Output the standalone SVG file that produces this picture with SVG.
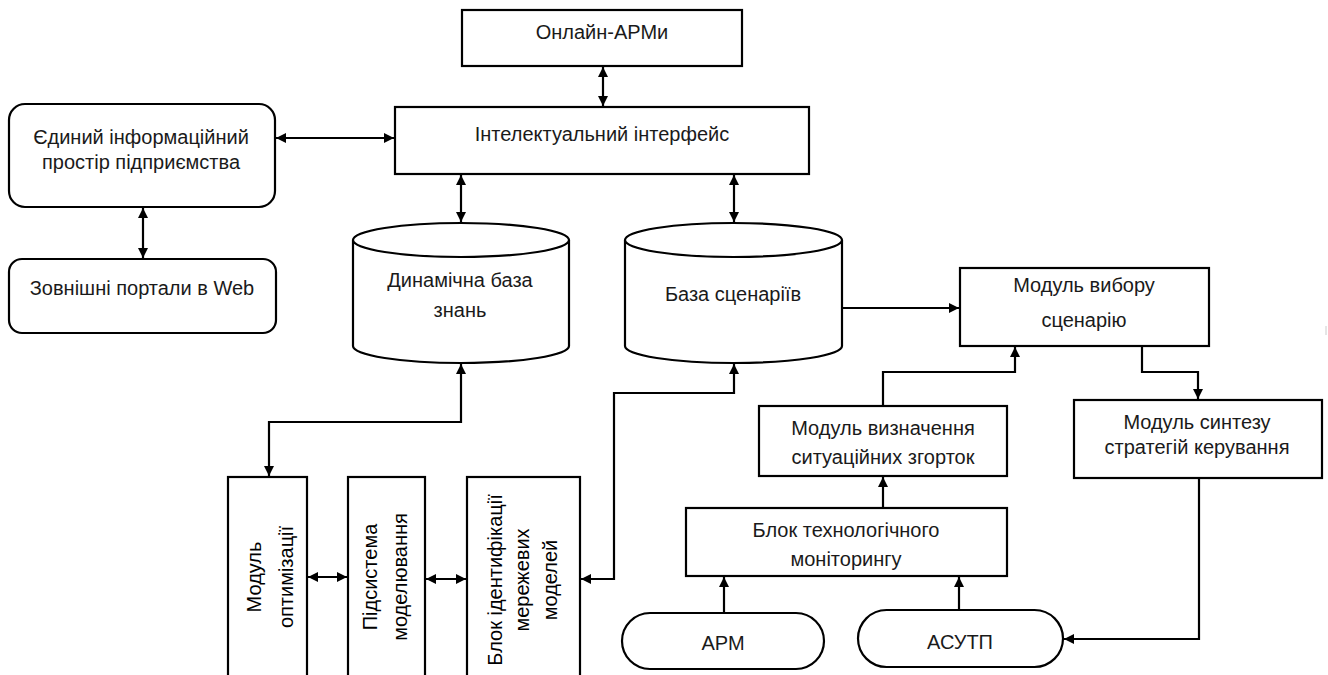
<svg xmlns="http://www.w3.org/2000/svg" width="1328" height="675" viewBox="0 0 1328 675">
<style>
.box{fill:#fff;stroke:#000;stroke-width:2.2}
.t{font-family:"Liberation Sans",Arial,sans-serif;font-size:20px;fill:#1a1a1a;text-anchor:middle}
.v{font-family:"Liberation Sans",Arial,sans-serif;font-size:20px;fill:#000;text-anchor:middle}
.c{fill:none;stroke:#000;stroke-width:2.2}
.a{marker-end:url(#ah)}
.aa{marker-start:url(#ah);marker-end:url(#ah)}
</style>
<defs>
<marker id="ah" viewBox="0 0 10 10" refX="10" refY="5" markerUnits="userSpaceOnUse" markerWidth="10" markerHeight="10" orient="auto-start-reverse">
<path d="M0,0 L10,5 L0,10 Z" fill="#000"/>
</marker>
</defs>
<rect width="1328" height="675" fill="#fff"/>

<g id="connectors">
<line class="c aa" x1="603" y1="67" x2="603" y2="106"/>
<line class="c aa" x1="276" y1="138" x2="394" y2="138"/>
<line class="c aa" x1="143" y1="208" x2="143" y2="258"/>
<line class="c aa" x1="461" y1="175" x2="461" y2="222"/>
<line class="c aa" x1="734" y1="175" x2="734" y2="222"/>
<polyline class="c aa" points="461,364 461,422 269,422 269,476"/>
<polyline class="c aa" points="734,364 734,393 614,393 614,579 581,579"/>
<line class="c aa" x1="308" y1="577" x2="347" y2="577"/>
<line class="c aa" x1="426" y1="579" x2="466" y2="579"/>
<line class="c a" x1="842" y1="308" x2="959" y2="308"/>
<polyline class="c a" points="883,406 883,372 1015,372 1015,347"/>
<polyline class="c a" points="1142,346 1142,372 1198,372 1198,399"/>
<line class="c a" x1="883" y1="508" x2="883" y2="477"/>
<line class="c a" x1="724" y1="613" x2="724" y2="577"/>
<line class="c a" x1="959" y1="610" x2="959" y2="577"/>
<polyline class="c a" points="1199,478 1199,639 1064,639"/>
</g>

<g id="online">
<rect class="box" x="462" y="10" width="280" height="56"/>
<text class="t" x="602" y="39">Онлайн-АРМи</text>
</g>

<g id="interface">
<rect class="box" x="395" y="107" width="414" height="67"/>
<text class="t" x="602" y="141">Інтелектуальний інтерфейс</text>
</g>

<g id="unified">
<rect class="box" x="9" y="104" width="266" height="103" rx="16"/>
<text class="t" x="141" y="144">Єдиний інформаційний</text>
<text class="t" x="141" y="169">простір підприємства</text>
</g>

<g id="portals">
<rect class="box" x="9" y="259" width="267" height="74" rx="13"/>
<text class="t" x="142" y="295">Зовнішні портали в Web</text>
</g>

<g id="knowledge">
<path class="box" d="M353,240 L353,346 A108,17 0 0 0 569,346 L569,240"/>
<ellipse class="box" cx="461" cy="240" rx="108" ry="17"/>
<text class="t" x="460" y="287">Динамічна база</text>
<text class="t" x="460" y="317">знань</text>
</g>

<g id="scenarios">
<path class="box" d="M625,240 L625,346 A108.5,17 0 0 0 842,346 L842,240"/>
<ellipse class="box" cx="733.5" cy="240" rx="108.5" ry="17"/>
<text class="t" x="733" y="301">База сценаріїв</text>
</g>

<g id="optim">
<rect class="box" x="228" y="477" width="79" height="215"/>
<text class="v" transform="translate(0,577) rotate(-90)"><tspan x="0" y="261">Модуль</tspan><tspan x="0" y="293">оптимізації</tspan></text>
</g>

<g id="modeling">
<rect class="box" x="348" y="477" width="77" height="215"/>
<text class="v" transform="translate(0,577) rotate(-90)"><tspan x="0" y="377">Підсистема</tspan><tspan x="0" y="407">моделювання</tspan></text>
</g>

<g id="ident">
<rect class="box" x="467" y="477" width="113" height="215"/>
<text class="v" transform="translate(0,580) rotate(-90)"><tspan x="0" y="502">Блок ідентифікації</tspan><tspan x="0" y="529">мережевих</tspan><tspan x="0" y="557">моделей</tspan></text>
</g>

<g id="choice">
<rect class="box" x="960" y="268" width="249" height="78"/>
<text class="t" x="1084" y="292">Модуль вибору</text>
<text class="t" x="1084" y="327">сценарію</text>
</g>

<g id="situations">
<rect class="box" x="759" y="406" width="248" height="70"/>
<text class="t" x="883" y="435">Модуль визначення</text>
<text class="t" x="883" y="464">ситуаційних згорток</text>
</g>

<g id="synthesis">
<rect class="box" x="1074" y="400" width="248" height="78"/>
<text class="t" x="1197" y="429">Модуль синтезу</text>
<text class="t" x="1197" y="454">стратегій керування</text>
</g>

<g id="monitoring">
<rect class="box" x="686" y="508" width="321" height="68"/>
<text class="t" x="846" y="537">Блок технологічного</text>
<text class="t" x="846" y="566">моніторингу</text>
</g>

<g id="arm">
<rect class="box" x="622" y="613" width="202" height="56" rx="28"/>
<text class="t" x="723" y="650">АРМ</text>
</g>

<g id="asutp">
<rect class="box" x="858" y="610" width="205" height="57" rx="28.5"/>
<text class="t" x="960" y="649">АСУТП</text>
</g>

<line x1="1326" y1="326" x2="1326" y2="335" stroke="#ccc" stroke-width="1"/>
</svg>
